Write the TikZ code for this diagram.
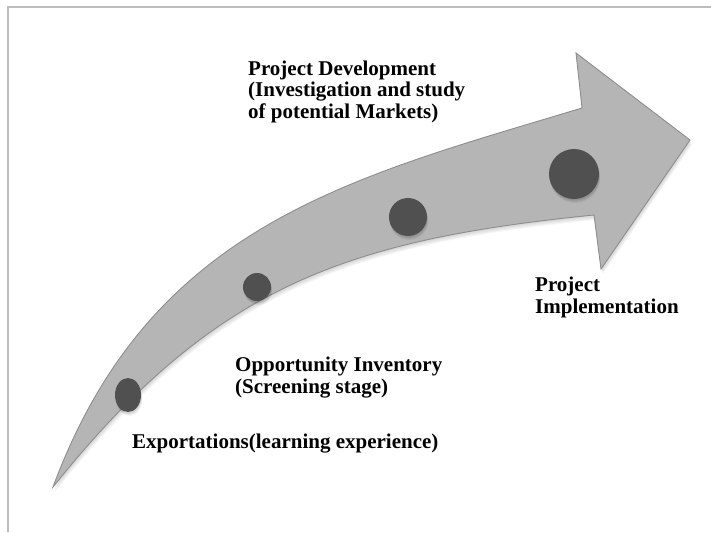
\documentclass[tikz,border=0pt]{standalone}
\usepackage{fontspec}
\setmainfont{Liberation Serif}
\usetikzlibrary{shapes.geometric}
\definecolor{framegray}{HTML}{BDBDBD}
\definecolor{arrowfill}{HTML}{B5B5B5}
\definecolor{arrowline}{HTML}{8E8E8E}
\definecolor{dotgray}{HTML}{505050}
\begin{document}
\begin{tikzpicture}[x=1pt,y=-1pt,
  caption/.style={font=\bfseries\fontsize{21}{21.5}\selectfont, align=left,
    anchor=base west, inner sep=0pt, text=black},
  milestone/.style={circle, fill=dotgray, inner sep=0pt},
]
\useasboundingbox (0,0) rectangle (711,532);

% page frame
\draw[framegray, line width=1.3pt] (711,7) -- (8,7) -- (8,532);

% curved arrow outline
\def\arrowoutline{(53,487) .. controls (150,225) and (350,178) .. (582,108)
  -- (576,53) -- (690,140) -- (601,269) -- (594,215)
  .. controls (344,240) and (213,287) .. (53,487) -- cycle}

% soft shadow under the arrow
\foreach \d in {1,...,5}
  \fill[black, opacity=0.035, shift={(0.4*\d,\d)}] \arrowoutline;
\filldraw[fill=arrowfill, draw=arrowline, line width=0.9pt, line join=miter] \arrowoutline;

% soft shadows under the milestones
\foreach \cx/\cy/\rx/\ry in {128/395/13/17, 257/287/14/14, 408/217/19/19, 574/174/25/25}
  \foreach \d in {1,...,4}
    \fill[black, opacity=0.05] (\cx+0.3*\d,\cy+\d) ellipse [x radius=\rx, y radius=\ry];

% milestones along the arrow
\node[ellipse, fill=dotgray, inner sep=0pt, minimum width=26pt, minimum height=34pt] (m1) at (128,395) {};
\node[milestone, minimum size=28pt] (m2) at (257,287) {};
\node[milestone, minimum size=38pt] (m3) at (408,217) {};
\node[milestone, minimum size=50pt] (m4) at (574,174) {};

% stage captions
\node[caption] (t1) at (132,448) {Exportations(learning experience)};
\node[caption] (t2) at (235,393) {Opportunity Inventory\\(Screening stage)};
\node[caption] (t3) at (248,118) {Project Development\\(Investigation and study\\of potential Markets)};
\node[caption] (t4) at (535,313) {Project\\Implementation};
\end{tikzpicture}
\end{document}
